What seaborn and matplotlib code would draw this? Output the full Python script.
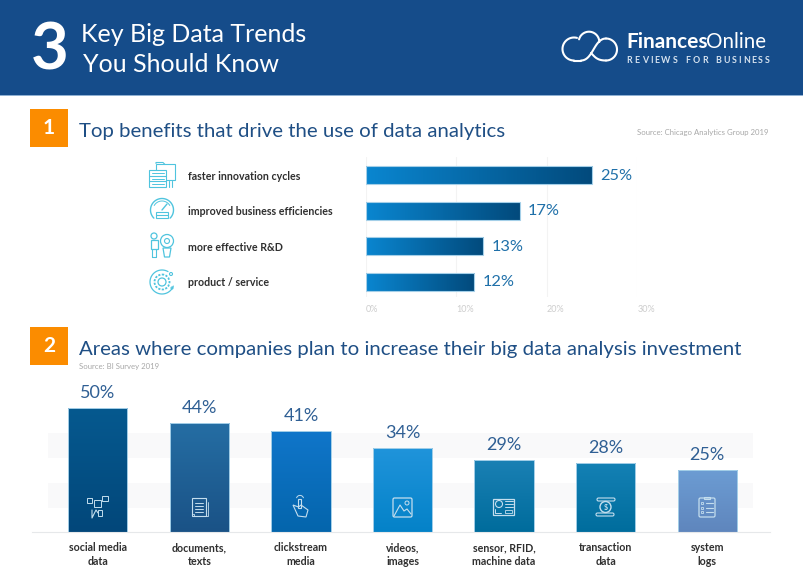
import numpy as np
import pandas as pd
import seaborn as sns
import matplotlib
matplotlib.use('Agg')
import matplotlib.pyplot as plt
from matplotlib.colors import LinearSegmentedColormap
from matplotlib.patches import Rectangle, Circle, Polygon, FancyBboxPatch
from matplotlib.textpath import TextPath
from matplotlib.font_manager import FontProperties

# --- Data ---
benefit_labels = ['faster innovation cycles', 'improved business efficiencies', 'more effective R&D', 'product / service']
benefit_values = [25, 17, 13, 12]
benefit_ticks = [0, 10, 20, 30]
area_labels = ['social media\ndata', 'documents,\ntexts', 'clickstream\nmedia', 'videos,\nimages',
               'sensor, RFID,\nmachine data', 'transaction\ndata', 'system\nlogs']
area_values = [50, 44, 41, 34, 29, 28, 25]
area_colors = [('#06598f', '#02477a'), ('#256ea4', '#1a5286'), ('#1076ca', '#0465ac'), ('#2094db', '#0482c8'),
               ('#1a80b4', '#006c9c'), ('#1481b5', '#006d9d'), ('#6c9cd3', '#5f86bd')]

W, H = 804, 586
NAVY = '#154c8a'
TITLE = '#1f4f85'
TEAL = '#4fc4de'
ICON = '#c4deee'

sns.set_theme(style='white')
plt.rcParams['font.family'] = ['Lato', 'DejaVu Sans']
fig = plt.figure(figsize=(W / 100, H / 100), dpi=100, facecolor='white')


def px_axes(left, top, right, bottom, **kw):
    return fig.add_axes([left / W, 1 - bottom / H, (right - left) / W, (bottom - top) / H], **kw)


# --- Background layer in pixel coordinates ---
bg = px_axes(0, 0, W, H, zorder=0)
bg.set_xlim(0, W)
bg.set_ylim(H, 0)
bg.axis('off')
bg.add_patch(Rectangle((0, 0), W, 95, color=NAVY, lw=0))
bg.add_patch(Rectangle((0, 95), W, 1, color='#8fb0d2', lw=0))
bg.text(49.5, 51, '3', color='white', fontsize=47, fontweight='bold', ha='center', va='center')
bg.text(81, 35, 'Key Big Data Trends', color='white', fontsize=18, ha='left', va='center')
bg.text(83, 65, 'You Should Know', color='white', fontsize=18, ha='left', va='center')
bg.text(626, 42.5, 'Finances', color='white', fontsize=15, fontweight='bold', ha='left', va='center')
bg.text(706, 42.5, 'Online', color='white', fontsize=14.8, fontweight='normal', ha='left', va='center')

# spaced out tagline under the logo
fp = FontProperties(family='Lato', weight='bold', size=6.4)
x = 626.5
for ch in 'REVIEWS FOR BUSINESS':
    bg.text(x, 60.5, ch, color='#d5e2ef', fontproperties=fp, ha='left', va='center')
    x += TextPath((0, 0), ch, prop=fp).get_extents().x1 / 0.72 + 2.3 if ch != ' ' else 5.8

for y, num, head in [(109, '1', 'Top benefits that drive the use of data analytics'),
                     (327, '2', 'Areas where companies plan to increase their big data analysis investment')]:
    bg.add_patch(Rectangle((30, y), 38, 38, color='#fb8c00', lw=0))
    bg.text(49, y + 19, num, color='white', fontsize=15, fontweight='bold', ha='center', va='center')
    bg.text(79, y + 22, head, color=TITLE, fontsize=14.65, ha='left', va='center')
bg.text(769, 133, 'Source: Chicago Analytics Group 2019', color='#a8a8a8', fontsize=5.6, ha='right', va='center')
bg.text(79, 366.5, 'Source: BI Survey 2019', color='#a8a8a8', fontsize=5.6, ha='left', va='center')


def gradient_bar(ax, bar, c0, c1, horizontal):
    # paint a clipped gradient into the bar seaborn drew
    cmap = LinearSegmentedColormap.from_list('g', [c0, c1])
    grad = np.linspace(0, 1, 128)
    grad = grad.reshape(1, -1) if horizontal else grad.reshape(-1, 1)
    bx, by, bw, bh = bar.get_x(), bar.get_y(), bar.get_width(), bar.get_height()
    im = ax.imshow(grad, cmap=cmap, extent=(bx, bx + bw, by, by + bh), aspect='auto', origin='upper', zorder=2)
    im.set_clip_path(bar)
    bar.set_facecolor('none')
    bar.set_zorder(3)


# --- Chart 1: horizontal bars ---
df1 = pd.DataFrame({'label': benefit_labels, 'value': benefit_values})
ax1 = px_axes(365.8, 157.5, 637.3, 297, zorder=1, facecolor='none')
sns.barplot(data=df1, y='label', x='value', orient='h', width=0.507, ax=ax1,
            edgecolor='#a4cfe8', linewidth=0.8, color='#0a85cf')
xlim1, ylim1 = (0, 30), (3.43, -0.5)
for bar in ax1.patches:
    gradient_bar(ax1, bar, '#0a86d0', '#024a7c', True)
ax1.set_xlim(xlim1)
ax1.set_ylim(ylim1)
ax1.set_xticks(benefit_ticks)
ax1.set_xticklabels([f'{t}%' for t in benefit_ticks], ha='left', color='#cdcdcd', fontsize=6.5)
ax1.set_xlabel('')
ax1.set_ylabel('')
ax1.grid(axis='x', color='#f3f3f3', lw=0.8, zorder=0)
ax1.set_axisbelow(True)
sns.despine(ax=ax1, left=True, bottom=True, top=True, right=True)
ax1.tick_params(axis='x', length=0, pad=6)
ax1.tick_params(axis='y', length=0, pad=128, labelsize=7.7, labelcolor='#2f2f2f')
for lab in ax1.get_yticklabels():
    lab.set_ha('left')
    lab.set_fontweight('bold')
for i, v in enumerate(benefit_values):
    ax1.annotate(f'{v}%', (v, i), xytext=(6, -0.5), textcoords='offset points', color='#1f70a9',
                 fontsize=11.8, va='center', ha='left', zorder=5, annotation_clip=False)

# --- Chart 2: vertical bars ---
df2 = pd.DataFrame({'label': area_labels, 'value': area_values})
ax2 = px_axes(31.7, 385, 770, 532.3, zorder=1, facecolor='none')
sns.barplot(data=df2, x='label', y='value', width=0.584, ax=ax2,
            edgecolor='#a4cfe8', linewidth=0.7, color='#0a85cf')
for bar, (c0, c1) in zip(ax2.patches, area_colors):
    gradient_bar(ax2, bar, c0, c1, False)
ax2.set_xlim(-0.65, 6.617)
ax2.set_ylim(0, 59.4)
for lo, hi in [(10, 20), (30, 40)]:
    ax2.axhspan(lo, hi, xmin=0.022, xmax=0.977, color='#f9f9fa', lw=0, zorder=0)
ax2.set_xlabel('')
ax2.set_ylabel('')
ax2.set_yticks([])
sns.despine(ax=ax2, left=True, top=True, right=True)
ax2.spines['bottom'].set_color('#e6e8ea')
ax2.spines['bottom'].set_linewidth(0.8)
ax2.tick_params(axis='x', length=0, pad=7, labelsize=7.7, labelcolor='#2f2f2f')
for lab in ax2.get_xticklabels():
    lab.set_fontweight('bold')
    lab.set_linespacing(1.35)
for i, v in enumerate(area_values):
    ax2.annotate(f'{v}%', (i, v), xytext=(0, 5), textcoords='offset points', color='#2f5f94',
                 fontsize=13, va='bottom', ha='center', zorder=5, annotation_clip=False)

# --- Icon layer in pixel coordinates ---
top = px_axes(0, 0, W, H, zorder=10, facecolor='none')
top.set_xlim(0, W)
top.set_ylim(H, 0)
top.axis('off')


def arc(cx, cy, r, a0, a1, c, lw=1.0):
    a = np.radians(np.linspace(a0, a1, 60))
    top.plot(cx + r * np.cos(a), cy - r * np.sin(a), color=c, lw=lw, solid_capstyle='round')


def ln(xs, ys, c, lw=0.8):
    top.plot(xs, ys, color=c, lw=lw, solid_capstyle='round')


def bez(p0, p1, p2, p3, c, lw=1.0):
    t = np.linspace(0, 1, 50)[:, None]
    pts = (1 - t) ** 3 * np.array(p0) + 3 * (1 - t) ** 2 * t * np.array(p1) + 3 * (1 - t) * t ** 2 * np.array(p2) + t ** 3 * np.array(p3)
    top.plot(pts[:, 0], pts[:, 1], color=c, lw=lw, solid_capstyle='round')


def box(x, y, w, h, c, lw=0.8, fill='none'):
    top.add_patch(Rectangle((x, y), w, h, fill=fill != 'none', fc=fill, ec=c, lw=lw))


def rbox(x, y, w, h, c, lw=0.8):
    top.add_patch(FancyBboxPatch((x, y), w, h, boxstyle='round,pad=0,rounding_size=1.5', fc='none', ec=c, lw=lw))


def ring(cx, cy, r, c, lw=0.8, **kw):
    top.add_patch(Circle((cx, cy), r, fc='none', ec=c, lw=lw, **kw))


# logo cloud
arc(574, 49, 11.5, 270, 75, 'white', 1.5)
arc(589, 42, 10.3, 165, 0, 'white', 1.5)
arc(606, 49.5, 11, 90, -90, 'white', 1.5)
ln([574, 581], [60.5, 60.5], 'white', 1.5)
bez((581, 60.5), (593, 60.5), (594, 38.5), (606, 38.5), 'white', 1.5)
bez((606, 60.5), (597, 60.5), (595, 57), (591, 53), 'white', 1.5)

# folder + server
box(156, 163.5, 19, 16, TEAL)
ln([156, 156, 163, 165], [163.5, 162.5, 162.5, 164.5], TEAL)
box(149.5, 170, 17, 17, TEAL, fill='white')
for yy in (175.5, 181):
    ln([149.5, 166.5], [yy, yy], TEAL)
for yy in (173, 178.5, 184):
    ln([152, 164], [yy, yy], TEAL, 0.7)
ln([169, 169], [181, 187], TEAL)
ln([172, 172], [181, 187], TEAL)

# gauge
arc(162, 210, 11.5, -45, 225, TEAL, 1.0)
arc(162, 210, 9, 30, 150, TEAL, 0.7)
box(156, 212, 12, 6, TEAL)
ln([156, 168], [215, 215], TEAL)
ln([162, 167], [210, 204], TEAL, 1.0)

# person + bulb
ring(154, 236, 3, TEAL, 0.9)
box(151, 240, 7, 9, TEAL, 0.9)
ln([152.5, 152.5], [249, 257], TEAL)
ln([156.5, 156.5], [249, 257], TEAL)
ln([152.5, 156.5], [257, 257], TEAL)
ring(167, 241, 6.5, TEAL, 0.9)
ring(167, 241, 2.5, TEAL, 0.8)
top.add_patch(Polygon([(163, 248), (171, 248), (169.5, 257), (164.5, 257)], fc='none', ec=TEAL, lw=0.9))

# gear with orbit
arc(162, 282, 12, 60, 340, TEAL, 0.9)
ring(162, 282, 7.5, TEAL, 1.3, linestyle=(0, (1.2, 0.8)))
ring(162, 282, 4, TEAL, 0.9)
ring(171, 274, 1.5, TEAL)
ring(172, 288, 1, TEAL)

# social media
box(87, 498, 5.5, 5, ICON, 0.7)
box(94, 500, 7, 7, ICON, 0.7)
box(102, 496, 6, 5, ICON, 0.7)
ln([92, 92, 96, 98], [510, 518, 510, 513], ICON, 0.8)
box(98, 510, 4, 6, ICON, 0.7)

# document
box(192, 498, 14, 18, ICON, 0.8)
ln([192, 194, 194, 208, 208], [514, 514, 516, 516, 502], ICON, 0.6)
for yy in (503, 506, 509, 512):
    ln([195, 203], [yy, yy], ICON, 0.7)

# hand
box(298.5, 499, 2.6, 9, ICON)
arc(300, 499, 3.6, 20, 160, ICON, 0.7)
top.add_patch(Polygon([(298.5, 507), (293, 505), (298, 516), (306, 517), (308, 510), (301, 505)],
                      fc='none', ec=ICON, lw=0.8))

# image
rbox(393, 498, 19, 19, ICON, 0.9)
ln([394, 400, 404, 407, 411], [516, 505, 511, 509, 514], ICON, 0.8)
ring(407, 503, 2, ICON, 0.7)

# sensor card
box(493.5, 498.5, 21, 16, ICON, 0.9)
ring(499, 504, 3.5, ICON)
for yy in (501, 504, 507):
    ln([505, 513], [yy, yy], ICON, 0.7)
box(505.5, 509.5, 7, 3, ICON, 0.6)
ln([495.5, 495.5, 501], [509, 513, 513], ICON, 0.7)

# dollar scroll
ring(605.5, 507, 5.5, ICON, 1.0)
top.text(605.5, 507, '$', color=ICON, fontsize=5, ha='center', va='center', fontweight='bold')
rbox(597, 498, 18, 3, ICON, 0.8)
rbox(596, 513, 18, 3, ICON, 0.8)

# clipboard
rbox(699, 498, 16, 19, ICON, 0.9)
box(704, 496.5, 6, 2.5, ICON, 0.8)
for yy in (503, 507.5, 512):
    box(701.5, yy - 1, 2, 2, ICON, 0.6)
    ln([706, 713], [yy, yy], ICON, 0.8)

fig.savefig('out.png', dpi=100, facecolor='white')
